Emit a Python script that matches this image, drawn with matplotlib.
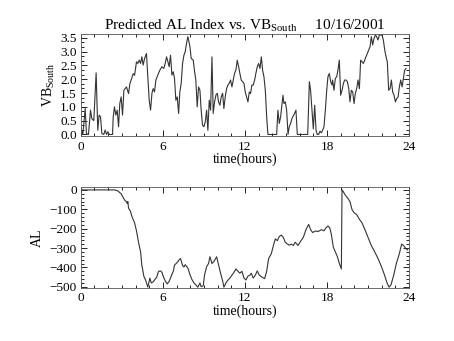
import matplotlib
matplotlib.use('Agg')
from matplotlib import pyplot as plt
from matplotlib.ticker import MultipleLocator

# VB South (top panel), hours / values
vb_hours = [0.0, 0.15, 0.32, 0.41, 0.56, 0.71, 0.8, 0.95, 1.12, 1.24, 1.34, 1.44,
            1.54, 1.68, 1.78, 1.88, 1.98, 2.07, 2.22, 2.32, 2.37, 2.46, 2.56, 2.66,
            2.76, 2.85, 2.95, 3.05, 3.15, 3.24, 3.34, 3.49, 3.59, 3.68, 3.83, 3.93,
            4.07, 4.17, 4.27, 4.37, 4.46, 4.56, 4.66, 4.8, 4.9, 5.0, 5.1, 5.2,
            5.29, 5.39, 5.49, 5.63, 5.78, 5.93, 6.07, 6.17, 6.27, 6.37, 6.46, 6.56,
            6.66, 6.76, 6.85, 6.95, 7.05, 7.15, 7.24, 7.34, 7.44, 7.54, 7.63, 7.73,
            7.83, 7.98, 8.07, 8.22, 8.32, 8.41, 8.51, 8.61, 8.71, 8.8, 8.9, 9.0,
            9.1, 9.2, 9.29, 9.39, 9.49, 9.59, 9.68, 9.78, 9.88, 9.98, 10.07, 10.17,
            10.27, 10.37, 10.46, 10.56, 10.66, 10.76, 10.85, 10.95, 11.05, 11.15, 11.24, 11.34,
            11.44, 11.54, 11.63, 11.73, 11.83, 11.93, 12.02, 12.12, 12.22, 12.32, 12.41, 12.51,
            12.61, 12.71, 12.8, 12.9, 13.0, 13.1, 13.2, 13.29, 13.39, 13.49, 13.59, 13.68,
            14.32, 14.41, 14.51, 14.61, 14.78, 14.85, 14.95, 15.05, 15.15, 15.24, 15.34, 15.44,
            15.63, 15.73, 15.83, 16.0, 16.59, 16.71, 16.8, 16.9, 17.0, 17.1, 17.2, 17.29,
            17.39, 17.49, 17.59, 17.68, 17.78, 17.88, 17.98, 18.07, 18.17, 18.27, 18.37, 18.41,
            18.51, 18.61, 18.71, 18.8, 18.9, 19.0, 19.1, 19.2, 19.29, 19.39, 19.49, 19.59,
            19.68, 19.78, 19.88, 19.98, 20.07, 20.17, 20.27, 20.37, 20.46, 20.56, 20.66, 20.76,
            20.85, 20.95, 21.05, 21.15, 21.24, 21.34, 21.44, 21.54, 21.63, 21.73, 21.83, 21.93,
            22.02, 22.12, 22.22, 22.32, 22.41, 22.51, 22.61, 22.71, 22.8, 22.9, 23.0, 23.1,
            23.2, 23.29, 23.39, 23.49, 23.59, 23.68, 23.78]
vb_values = [0.25, 0.0, 0.94, 0.03, 0.0, 0.88, 0.58, 0.5, 2.23, 0.15, 0.7, 0.64,
             0.03, 0.0, 0.16, 0.0, 0.1, 0.0, 0.0, 0.0, 0.64, 1.0, 0.7, 0.88,
             0.28, 1.12, 1.36, 0.7, 1.6, 1.66, 1.72, 1.48, 1.85, 1.97, 2.2, 2.14,
             2.63, 2.57, 2.69, 2.57, 2.81, 2.51, 2.75, 2.93, 2.09, 1.24, 0.88, 1.49,
             1.66, 1.54, 1.97, 2.15, 2.33, 2.45, 2.39, 2.57, 2.81, 2.63, 2.45, 2.87,
             2.15, 2.27, 2.03, 1.24, 1.36, 0.76, 1.54, 1.85, 2.57, 2.87, 2.99, 3.3,
             3.54, 3.18, 2.75, 2.69, 2.27, 1.97, 1.0, 1.72, 1.6, 0.88, 0.34, 0.28,
             0.46, 0.88, 0.15, 1.24, 0.88, 2.81, 0.76, 1.18, 1.43, 1.49, 1.18, 1.06,
             1.36, 1.49, 0.94, 1.36, 1.66, 1.79, 1.85, 1.97, 1.72, 1.97, 2.21, 2.33,
             2.69, 2.45, 2.21, 1.97, 1.91, 1.85, 1.54, 1.36, 1.18, 1.54, 1.48, 1.79,
             1.79, 1.97, 2.21, 2.45, 2.57, 2.39, 2.81, 2.33, 2.09, 1.6, 0.64, 0.0,
             0.0, 0.88, 0.4, 0.64, 1.42, 1.12, 1.18, 0.88, 0.0, 0.28, 0.4, 0.58,
             0.76, 0.88, 0.0, 0.0, 0.0, 1.91, 1.6, 0.88, 0.2, 1.06, 0.15, 0.0,
             0.0, 0.12, 0.06, 0.15, 0.28, 0.88, 1.6, 2.09, 2.21, 1.91, 1.79, 1.97,
             1.6, 2.03, 2.09, 2.33, 2.69, 1.42, 1.6, 1.85, 1.97, 1.97, 1.91, 1.66,
             1.18, 1.6, 1.54, 1.12, 1.48, 1.66, 1.97, 1.66, 2.69, 2.63, 2.57, 2.69,
             2.81, 2.93, 3.06, 3.18, 3.54, 3.24, 3.48, 3.6, 3.54, 3.42, 3.6, 3.6,
             3.6, 3.42, 3.06, 2.81, 2.63, 1.6, 1.66, 1.97, 1.54, 1.42, 1.18, 1.3,
             1.36, 1.72, 1.97, 1.72, 2.03, 2.33, 2.39]

# predicted AL (bottom panel)
al_hours = [0.0, 2.46, 2.7, 2.95, 3.2, 3.32, 3.39, 3.44, 3.49, 3.63, 3.73, 3.93,
            4.07, 4.22, 4.37, 4.46, 4.61, 4.76, 4.9, 5.05, 5.15, 5.29, 5.44, 5.54,
            5.68, 5.83, 5.93, 6.02, 6.17, 6.32, 6.46, 6.61, 6.76, 6.85, 7.0, 7.1,
            7.2, 7.29, 7.44, 7.54, 7.63, 7.83, 7.98, 8.12, 8.27, 8.41, 8.56, 8.71,
            8.8, 8.95, 9.05, 9.2, 9.34, 9.44, 9.59, 9.73, 9.93, 10.07, 10.22, 10.37,
            10.46, 10.61, 10.76, 10.9, 11.05, 11.2, 11.34, 11.49, 11.63, 11.78, 11.93, 12.07,
            12.22, 12.37, 12.46, 12.61, 12.76, 12.9, 13.05, 13.24, 13.44, 13.59, 13.73, 13.93,
            14.07, 14.22, 14.37, 14.51, 14.66, 14.8, 14.95, 15.1, 15.24, 15.39, 15.54, 15.68,
            15.88, 16.07, 16.27, 16.46, 16.66, 16.8, 16.95, 17.15, 17.34, 17.59, 17.78, 17.93,
            18.07, 18.2, 18.32, 18.46, 18.61, 18.76, 18.9, 19.05, 19.1, 19.2, 19.34, 19.54,
            19.68, 19.83, 19.98, 20.17, 20.37, 20.56, 20.76, 21.0, 21.24, 21.49, 21.73, 21.98,
            22.2, 22.39, 22.54, 22.68, 22.88, 23.07, 23.29, 23.46, 23.61, 23.78, 23.9]
al_values = [0, 0, -5, -20, -52, -60, -70, -60, -94, -110, -136, -170,
             -211, -270, -320, -388, -446, -470, -502, -455, -480, -475, -460, -452,
             -421, -418, -425, -445, -470, -485, -472, -445, -420, -388, -378, -370,
             -360, -354, -390, -398, -386, -404, -437, -462, -480, -490, -502, -480,
             -500, -495, -438, -396, -380, -345, -380, -370, -345, -387, -430, -470,
             -502, -480, -465, -455, -440, -425, -408, -420, -430, -420, -455, -465,
             -445, -440, -430, -455, -440, -418, -440, -450, -458, -420, -355, -329,
             -290, -253, -262, -240, -233, -245, -270, -279, -285, -280, -287, -270,
             -287, -265, -245, -205, -178, -205, -220, -212, -215, -205, -211, -195,
             -186, -195, -230, -295, -320, -345, -379, -408, 0, -10, -27, -45,
             -60, -102, -118, -127, -152, -170, -203, -245, -287, -320, -354, -396,
             -438, -480, -502, -490, -440, -380, -329, -279, -288, -304, -310]

plt.rcParams['font.family'] = ['Liberation Serif', 'DejaVu Serif']
plt.rcParams['font.size'] = 10
plt.rcParams['mathtext.fontset'] = 'custom'
plt.rcParams['mathtext.rm'] = 'Liberation Serif'
plt.rcParams['mathtext.it'] = 'Liberation Serif'

fig = plt.figure(figsize=(4.54, 3.41), dpi=100)
ax1 = fig.add_axes([0.178, 0.600, 0.723, 0.299])
ax2 = fig.add_axes([0.178, 0.1545, 0.723, 0.2965])

for ax in (ax1, ax2):
    ax.set_xlim(0, 24)
    ax.xaxis.set_major_locator(MultipleLocator(6))
    ax.xaxis.set_minor_locator(MultipleLocator(1))
    ax.tick_params(which='both', direction='in', top=True, right=True,
                   width=0.6, labelsize=9.5, pad=3)
    ax.tick_params(which='major', length=4)
    ax.tick_params(which='minor', length=2.2)
    for s in ax.spines.values():
        s.set_linewidth(0.6)
        s.set_color('#555555')
    ax.set_xlabel('time(hours)', fontsize=10, labelpad=0)

ax1.plot(vb_hours, vb_values, color='#333333', lw=0.8)
ax1.set_ylim(-0.07, 3.62)
ax1.yaxis.set_major_locator(MultipleLocator(0.5))
ax1.yaxis.set_minor_locator(MultipleLocator(0.5 / 3))
ax1.set_yticklabels([f'{t:.1f}' for t in ax1.get_yticks()])
ax1.set_ylabel('VB$_{\\mathrm{South}}$', labelpad=2)
ax1.set_title('Predicted AL Index vs. VB$_{\\mathrm{South}}$     10/16/2001',
              fontsize=11, pad=3)

ax2.plot(al_hours, al_values, color='#333333', lw=0.8)
ax2.set_ylim(-508, 14)
ax2.yaxis.set_major_locator(MultipleLocator(100))
ax2.yaxis.set_minor_locator(MultipleLocator(20))
ax2.set_ylabel('AL', labelpad=4)

fig.savefig('out.png', dpi=100)
